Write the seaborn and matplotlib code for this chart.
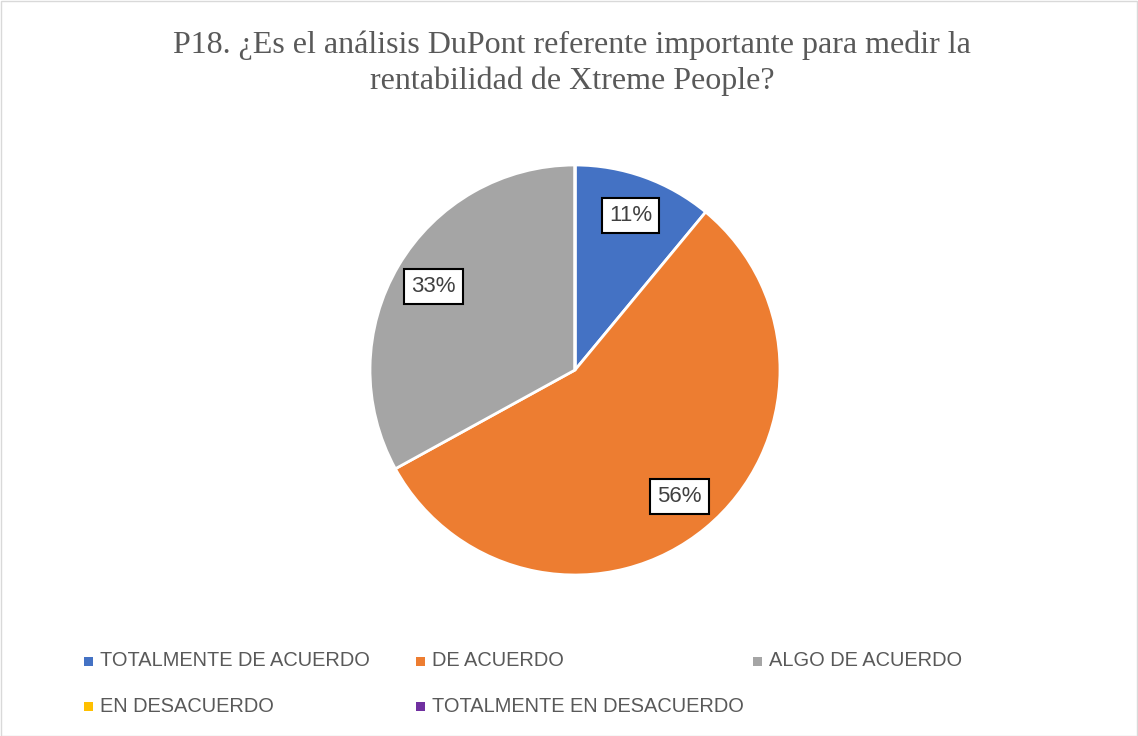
import matplotlib
matplotlib.use('Agg')
import matplotlib.pyplot as plt
import seaborn as sns
from matplotlib.patches import Rectangle

categories = ['TOTALMENTE DE ACUERDO', 'DE ACUERDO', 'ALGO DE ACUERDO',
              'EN DESACUERDO', 'TOTALMENTE EN DESACUERDO']
values = [11, 56, 33, 0, 0]
colors = ['#4472C4', '#ED7D31', '#A5A5A5', '#FFC000', '#7030A0']
title = 'P18. ¿Es el análisis DuPont referente importante para medir la\nrentabilidad de Xtreme People?'

sns.set_theme(style='white')
plt.rcParams['font.family'] = ['Liberation Sans', 'DejaVu Sans']

W, H = 1138, 736
fig = plt.figure(figsize=(W / 100, H / 100), dpi=100)

# pie axes: centre (575, 370) px, radius 205 px
cx, cy, r = 575, 370, 205
ax = fig.add_axes([(cx - r) / W, (H - cy - r) / H, 2 * r / W, 2 * r / H])

wedges, texts, autotexts = ax.pie(
    values, colors=colors, startangle=90, counterclock=False,
    autopct=lambda p: f'{p:.0f}%' if p > 0 else '', pctdistance=0.8,
    wedgeprops=dict(edgecolor='white', linewidth=2), radius=1)
ax.set_xlim(-1, 1)
ax.set_ylim(-1, 1)
ax.set_aspect('equal')
ax.axis('off')
for t in autotexts:
    t.set_fontsize(16)
    t.set_color('#404040')
    if t.get_text():
        t.set_bbox(dict(facecolor='white', edgecolor='black', linewidth=1.5,
                        boxstyle='square,pad=0.32'))

fig.text(572 / W, 1 - 63 / H, title, ha='center', va='center',
         fontsize=23, color='#595959', family=['Liberation Serif', 'DejaVu Serif'],
         linespacing=1.28)

# legend, Excel-style fixed columns
col_x = [84, 416, 753]
row_y = [661, 706]
for i, (lab, col) in enumerate(zip(categories, colors)):
    x = col_x[i % 3]
    y = row_y[i // 3]
    fig.patches.append(Rectangle((x / W, 1 - (y + 4.5) / H), 9 / W, 9 / H,
                                 transform=fig.transFigure, facecolor=col,
                                 edgecolor='none'))
    fig.text((x + 16) / W, 1 - y / H, lab, ha='left', va='center',
             fontsize=14.4, color='#595959')

fig.patches.append(Rectangle((0.5 / W, 0.5 / H), 1 - 1.5 / W, 1 - 1.5 / H,
                             transform=fig.transFigure, facecolor='none',
                             edgecolor='#D9D9D9', linewidth=1))

fig.savefig('out.png', dpi=100)
